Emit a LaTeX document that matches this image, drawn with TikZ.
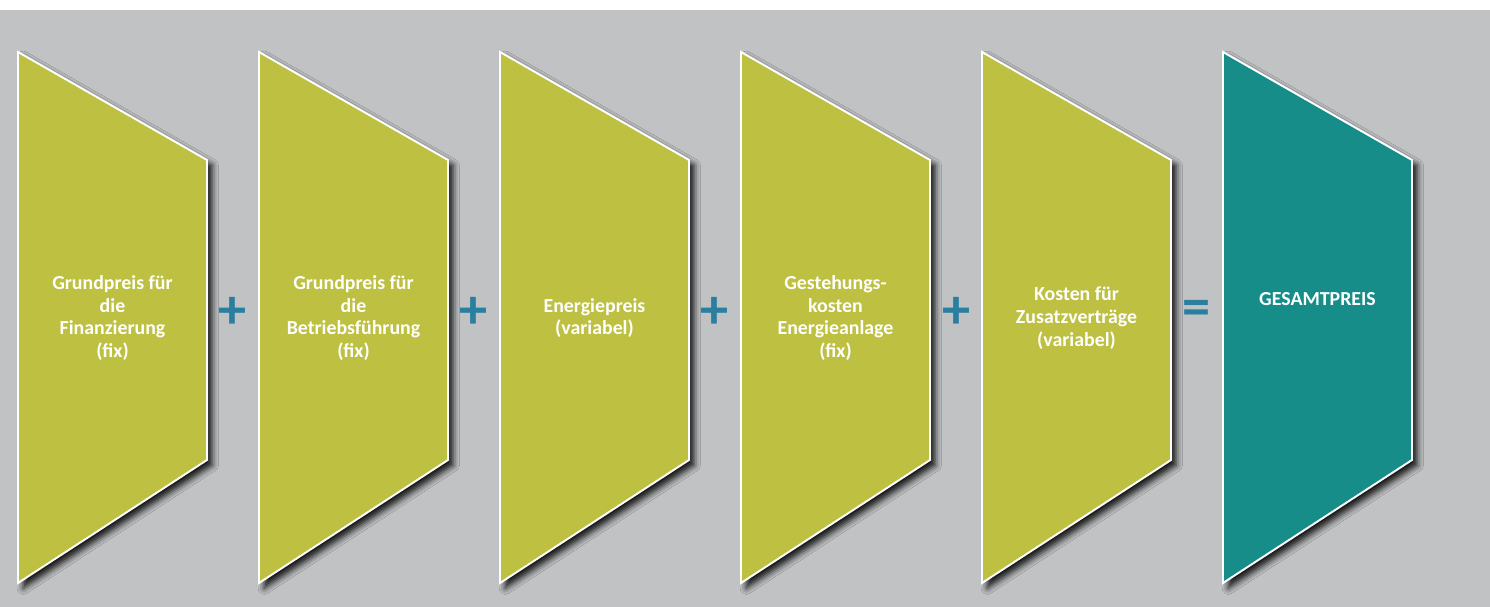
\documentclass[tikz,border=0pt]{standalone}
\usepackage{fontspec}
\setmainfont{Carlito}
\usepackage{xcolor}
\usepackage{tikz}
\usetikzlibrary{shadows.blur}

\definecolor{hintergrund}{HTML}{C1C2C4}
\definecolor{oliv}{HTML}{BDC040}
\definecolor{petrol}{HTML}{178D8A}
\definecolor{zeichen}{HTML}{2A7E9F}

% one price block: left edge x, colour
\newcommand{\preisblock}[2]{%
  \filldraw[block, fill=#2] (#1,52) -- ++(189,108) -- ++(0,300) -- (#1,583) -- cycle;}

\begin{document}
\begin{tikzpicture}[x=0.02cm, y=-0.02cm,
    block/.style={draw=white, line width=1.1pt, line join=miter,
      blur shadow={shadow xshift=3pt, shadow yshift=-3pt,
        shadow blur radius=3.5pt, shadow opacity=90}},
    beschriftung/.style={text=white, font=\bfseries\fontsize{11.3}{13}\selectfont,
      align=center},
    rechenzeichen/.style={text=zeichen, font=\bfseries\fontsize{32}{32}\selectfont}]
    \useasboundingbox (0,0) rectangle (1490,607);
    \fill[hintergrund] (0,10) rectangle (1490,607);

    \preisblock{18}{oliv}
    \preisblock{259}{oliv}
    \preisblock{500}{oliv}
    \preisblock{741}{oliv}
    \preisblock{982}{oliv}
    \preisblock{1223}{petrol}

    \node[beschriftung] (finanz) at (112.5,318) {Grundpreis für\\die\\Finanzierung\\(fix)};
    \node[beschriftung] (betrieb) at (353.5,318) {Grundpreis für\\die\\Betriebsführung\\(fix)};
    \node[beschriftung] (energie) at (594.5,318) {Energiepreis\\(variabel)};
    \node[beschriftung] (anlage) at (835.5,318) {Gestehungs-\\kosten\\Energieanlage\\(fix)};
    \node[beschriftung] (zusatz) at (1076.5,318) {Kosten für\\Zusatzverträge\\(variabel)};
    \node[beschriftung] (gesamt) at (1317.5,299) {GESAMTPREIS};

    \node[rechenzeichen] (plus1) at (232,313) {+};
    \node[rechenzeichen] (plus2) at (473,313) {+};
    \node[rechenzeichen] (plus3) at (714,313) {+};
    \node[rechenzeichen] (plus4) at (956,313) {+};
    \node[rechenzeichen] (gleich) at (1196,313) {=};
\end{tikzpicture}
\end{document}
